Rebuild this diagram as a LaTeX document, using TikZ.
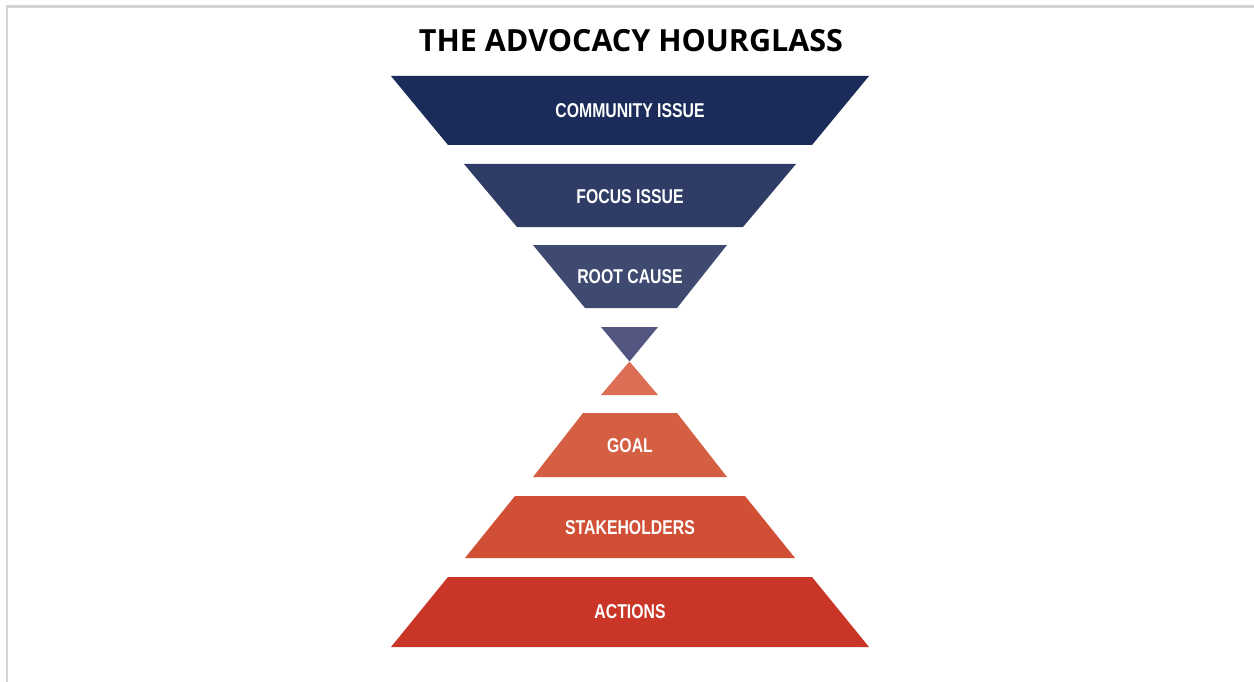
\documentclass[tikz,border=0pt]{standalone}
\usepackage{fontspec}
\setmainfont{Liberation Sans}
\newfontfamily\titlefont{Open Sans}
\newfontfamily\condfont[FakeStretch=0.79]{Liberation Sans}
\definecolor{cA}{HTML}{1B2C5A}
\definecolor{cB}{HTML}{2F3C66}
\definecolor{cC}{HTML}{3F4A70}
\definecolor{cD}{HTML}{535680}
\definecolor{cE}{HTML}{DC6E55}
\definecolor{cF}{HTML}{D45F42}
\definecolor{cG}{HTML}{D04F35}
\definecolor{cH}{HTML}{C93627}
\definecolor{frame}{HTML}{D3D3D3}
\begin{document}
\begin{tikzpicture}[x=1pt,y=-1pt,
  lbl/.style={text=white,font=\condfont\bfseries\fontsize{20}{22}\selectfont,inner sep=0pt,anchor=center}]
\useasboundingbox (0,0) rectangle (1254,682);
\fill[white] (0,0) rectangle (1254,682);
\draw[frame,line width=2.5pt] (7.2,682) -- (7.2,6.7) -- (1254,6.7);
\node[font=\titlefont\bfseries\fontsize{30.5}{33}\selectfont,inner sep=0pt,anchor=base] (title) at (631,52) {THE ADVOCACY HOURGLASS};
% top bands
\fill[cA] (391,76) -- (869,76) -- (812,145) -- (448,145) -- cycle;
\node[lbl] (community) at (630,110.5) {COMMUNITY ISSUE};
\fill[cB] (464,164) -- (796,164) -- (743,227) -- (517,227) -- cycle;
\node[lbl] (focus) at (630,197) {FOCUS ISSUE};
\fill[cC] (533,245) -- (727,245) -- (677,308) -- (585,308) -- cycle;
\node[lbl] (root) at (630,276.5) {ROOT CAUSE};
% neck
\fill[cD] (601,327) -- (658,327) -- (629.5,361.5) -- cycle;
\fill[cE] (629.5,361.5) -- (658,395) -- (601,395) -- cycle;
% bottom bands
\fill[cF] (583,413) -- (677,413) -- (727,477) -- (533,477) -- cycle;
\node[lbl] (goal) at (630,446) {GOAL};
\fill[cG] (515,496) -- (745,496) -- (795,558) -- (465,558) -- cycle;
\node[lbl] (stake) at (630,528) {STAKEHOLDERS};
\fill[cH] (448,577) -- (812,577) -- (869,647) -- (391,647) -- cycle;
\node[lbl] (actions) at (630,612) {ACTIONS};
\end{tikzpicture}
\end{document}
